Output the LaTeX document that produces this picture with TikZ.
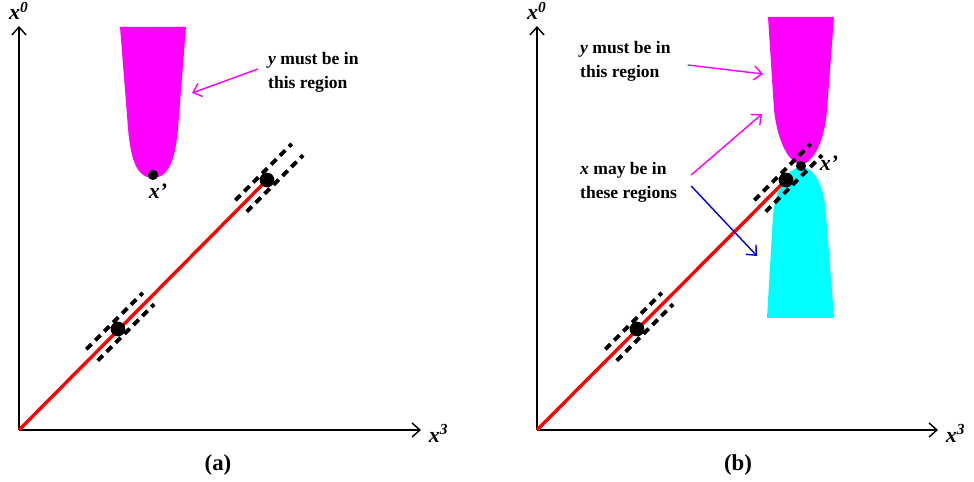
\documentclass[tikz,border=0pt]{standalone}
\usepackage{fontspec}
\setmainfont{Liberation Serif}
\usepackage{xcolor}
\usepackage{tikz}
\usetikzlibrary{arrows.meta,positioning,calc}

\definecolor{yregion}{RGB}{255,0,255}
\definecolor{xregion}{RGB}{0,255,255}
\definecolor{linered}{RGB}{255,0,0}
\definecolor{arrowblue}{RGB}{0,0,230}

\tikzset{
  axis/.style={line width=0.8pt,->},
  diag/.style={linered,line width=1.9pt},
  band/.style={line width=2.2pt,dash pattern=on 4.2pt off 3pt},
  bigdot/.style={circle,fill,inner sep=0pt,minimum size=8.4pt},
  smalldot/.style={circle,fill,inner sep=0pt,minimum size=5.8pt},
  note/.style={align=left,font=\bfseries\fontsize{10}{13.5}\selectfont},
  lbl/.style={font=\bfseries\itshape\fontsize{12.5}{14}\selectfont},
  subcap/.style={font=\bfseries\fontsize{13}{15}\selectfont},
  pointer/.style={->,line width=0.8pt}
}

\begin{document}
\begin{tikzpicture}[x=0.02cm,y=-0.02cm,>={Straight Barb[length=4.5pt,width=8pt]}]
\useasboundingbox (0,0) rectangle (974,482);
\coordinate (oA) at (19,430);
\coordinate (yA) at (19,26);
\coordinate (xA) at (421,430);
\coordinate (oB) at (537,430);
\coordinate (yB) at (537,26);
\coordinate (xB) at (938,430);
\coordinate (pA1) at (118,329);
\coordinate (pA2) at (267,180);
\coordinate (pB1) at (637,329);
\coordinate (pB2) at (786,180);

\fill[yregion] (120,27) -- (186,27) -- (178,128) .. controls (175,165) and (166,178) .. (153,178)
  .. controls (139,178) and (131,165) .. (128,128) -- cycle;
\fill[yregion] (768,17) -- (834,17) -- (827,110) .. controls (824,145) and (812,163) .. (801,165)
  .. controls (790,163) and (778,145) .. (774,110) -- cycle;
\fill[xregion] (801,167) .. controls (815,168) and (824,185) .. (826,215) -- (834,318) -- (767,318)
  -- (773,215) .. controls (776,185) and (788,168) .. (801,167) -- cycle;

\draw[axis] (oA) -- (yA);
\draw[axis] (oA) -- (xA);
\draw[axis] (oB) -- (yB);
\draw[axis] (oB) -- (xB);
\node[lbl,above=0pt of yA] (x0A) {x\textsuperscript{0}};
\node[lbl,right=1pt of xA,yshift=-2pt] (x3A) {x\textsuperscript{3}};
\node[lbl,above=0pt of yB] (x0B) {x\textsuperscript{0}};
\node[lbl,right=1pt of xB,yshift=-2pt] (x3B) {x\textsuperscript{3}};

\draw[diag] (oA) -- (pA2);
\draw[diag] (oB) -- (pB2);
\foreach \p in {pA1,pA2,pB1,pB2}{
  \draw[band] ($(\p)+(-31.7,20.3)$) -- ($(\p)+(24.7,-36.1)$);
  \draw[band] ($(\p)+(-20.3,31.7)$) -- ($(\p)+(36.1,-24.7)$);
  \node[bigdot] (d\p) at (\p) {};
}
\node[smalldot] (xdotA) at (153,175) {};
\node[smalldot] (xdotB) at (801,166) {};
\node[lbl] (xpA) at (158,191) {x’};
\node[lbl] (xpB) at (829,163) {x’};

\node[note,anchor=west] (noteYa) at (262,72) {\textit{y} must be in\\this region};
\node[note,anchor=west] (noteYb) at (574,61) {\textit{y} must be in\\this region};
\node[note,anchor=west] (noteXb) at (574,182) {\textit{x} may be in\\these regions};
\coordinate (tipA) at (192,93);
\coordinate (tipB1) at (763,74);
\coordinate (tipB2) at (762,114);
\coordinate (tipB3) at (757,256);
\draw[pointer,yregion] ($(noteYa.west)+(-4,-3)$) -- (tipA);
\draw[pointer,yregion] ($(noteYb.east)+(11,4)$) -- (tipB1);
\draw[pointer,yregion] ($(noteXb.east)+(8,-7)$) -- (tipB2);
\draw[pointer,arrowblue] ($(noteXb.east)+(8,4)$) -- (tipB3);

\node[subcap] (capA) at (218,465) {(a)};
\node[subcap] (capB) at (738,465) {(b)};
\end{tikzpicture}
\end{document}
